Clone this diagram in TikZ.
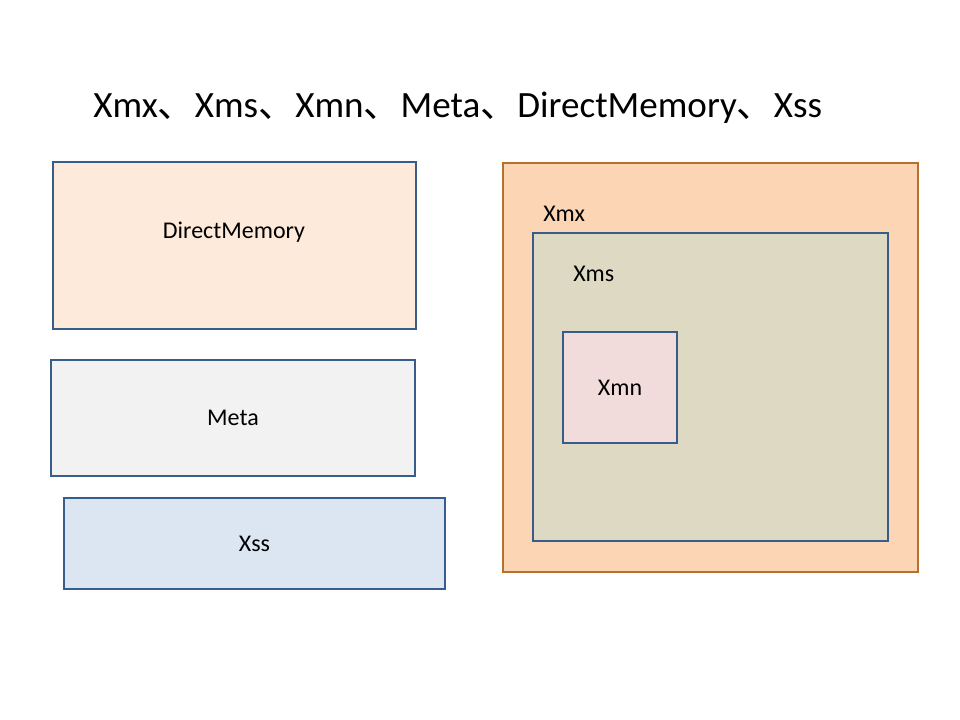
\documentclass[tikz,border=0pt]{standalone}
\usepackage{fontspec}
\setmainfont{Carlito}
\newfontfamily\cjk{Noto Sans CJK SC}
\definecolor{edgeblue}{HTML}{385D8A}
\definecolor{edgeorange}{HTML}{B7712F}
\definecolor{fdm}{HTML}{FDEADA}
\definecolor{fmeta}{HTML}{F2F2F2}
\definecolor{fxss}{HTML}{DCE6F2}
\definecolor{fxmx}{HTML}{FCD5B5}
\definecolor{fxms}{HTML}{DDD9C3}
\definecolor{fxmn}{HTML}{F2DCDB}
\begin{document}
\begin{tikzpicture}[x=0.75pt,y=-0.75pt,
  membox/.style={draw=edgeblue, line width=2.2pt, rectangle, inner sep=0pt, outer sep=0pt, font=\fontsize{18}{21}\selectfont},
  lbl/.style={inner sep=0pt, font=\fontsize{18}{21}\selectfont, anchor=west}]
\useasboundingbox (0,0) rectangle (960,720);
\node[inner sep=0pt, anchor=west, font=\fontsize{27.8}{33}\selectfont] (title) at (93,108) {Xmx{\cjk 、}Xms{\cjk 、}Xmn{\cjk 、}Meta{\cjk 、}DirectMemory{\cjk 、}Xss};
\node[membox, fill=fdm, minimum width=363*0.75pt, minimum height=167*0.75pt] (dm) at (234.5,245.5) {};
\node[lbl, anchor=center] (dml) at (234,232) {DirectMemory};
\node[membox, fill=fmeta, minimum width=364*0.75pt, minimum height=116*0.75pt] (meta) at (233,418) {Meta};
\node[membox, fill=fxss, minimum width=381*0.75pt, minimum height=91*0.75pt] (xss) at (254.5,543.5) {Xss};
\node[membox, draw=edgeorange, fill=fxmx, minimum width=415*0.75pt, minimum height=409*0.75pt] (xmx) at (710.5,367.5) {};
\node[membox, fill=fxms, minimum width=355*0.75pt, minimum height=308*0.75pt] (xms) at (710.5,387) {};
\node[membox, fill=fxmn, minimum width=114*0.75pt, minimum height=111*0.75pt] (xmn) at (620,387.5) {Xmn};
\node[lbl] (xmxl) at (543,214) {Xmx};
\node[lbl] (xmsl) at (573,274) {Xms};
\end{tikzpicture}
\end{document}
